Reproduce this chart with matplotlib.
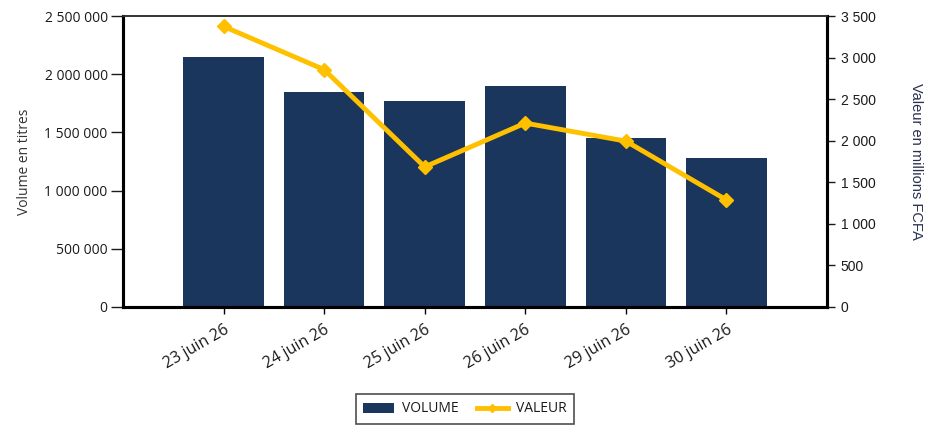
import matplotlib
matplotlib.use("Agg")
import matplotlib.pyplot as plt
from matplotlib.ticker import FuncFormatter
from matplotlib.lines import Line2D
from matplotlib.patches import Patch

categories = ["23 juin 26", "24 juin 26", "25 juin 26", "26 juin 26", "29 juin 26", "30 juin 26"]
volume = [2150000, 1850000, 1770000, 1900000, 1455000, 1280000]
valeur = [3375, 2855, 1685, 2212, 1995, 1288]

bar_color = "#1A365D"
line_color = "#FFC000"

plt.rcParams['font.family'] = ['Open Sans', 'DejaVu Sans']

fig = plt.figure(figsize=(9.42, 4.29), dpi=100)
ax = fig.add_axes([123/942, 1 - 307/429, (827-123)/942, (307-16)/429])
x = list(range(len(categories)))
ax.bar(x, volume, width=0.8, color=bar_color, zorder=2)
ax.set_xlim(-1, 6)
ax.set_ylim(0, 2500000)
ax.set_yticks([0, 500000, 1000000, 1500000, 2000000, 2500000])
fmt = lambda v, p: f"{int(v):,}".replace(",", " ")
ax.yaxis.set_major_formatter(FuncFormatter(fmt))
ax.set_xticks(x)
ax.set_xticklabels(categories, rotation=30, ha="right", rotation_mode="anchor", fontsize=11.5, color="#1a1a1a")
ax.tick_params(axis="y", direction="out", length=9, width=1, labelsize=10, colors="#1a1a1a", pad=2)
ax.tick_params(axis="x", direction="out", length=5, width=1, pad=6)
ax.set_ylabel("Volume en titres", fontsize=10, color="#333333", labelpad=9)

ax2 = ax.twinx()
ax2.plot(x, valeur, color=line_color, linewidth=3.5, marker="D", markersize=7, zorder=3)
ax2.set_ylim(0, 3500)
ax2.set_yticks([0, 500, 1000, 1500, 2000, 2500, 3000, 3500])
ax2.yaxis.set_major_formatter(FuncFormatter(fmt))
ax2.tick_params(axis="y", direction="out", length=6, width=1, pad=4, colors="#1a1a1a")
for lbl in ax2.get_yticklabels():
    lbl.set_fontfamily(["Liberation Sans", "DejaVu Sans"])
    lbl.set_fontsize(10)
ax2.set_ylabel("Valeur en millions FCFA", rotation=270, fontsize=10.5, color="#2a3050", labelpad=34,
               fontfamily=["Liberation Sans", "DejaVu Sans"])

for a in (ax, ax2):
    a.spines["left"].set_linewidth(2.2)
    a.spines["bottom"].set_linewidth(2.2)
    a.spines["right"].set_linewidth(2.2)
    a.spines["top"].set_linewidth(1.2)
    a.spines["top"].set_color("#333333")

handles = [Patch(facecolor=bar_color, label="VOLUME"),
           Line2D([0], [0], color=line_color, linewidth=3.5, marker="D", markersize=4, label="VALEUR")]
leg = fig.legend(handles=handles, loc="center", bbox_to_anchor=(465/942, 1 - 409/429), ncol=2,
                 frameon=True, fancybox=False, edgecolor="#222222", fontsize=10,
                 handlelength=2.2, columnspacing=1.3, borderpad=0.55, handletextpad=0.6)
leg.get_frame().set_linewidth(1.2)
for t in leg.get_texts():
    t.set_color("#1a1a1a")

fig.savefig("out.png", dpi=100)
